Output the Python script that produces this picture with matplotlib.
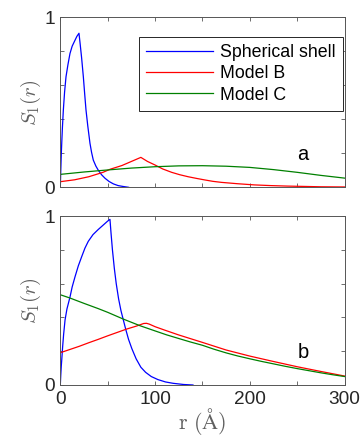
import numpy as np
import matplotlib
matplotlib.use("Agg")
import matplotlib.pyplot as plt

plt.rcParams['font.family'] = ['Liberation Sans', 'DejaVu Sans']
plt.rcParams['mathtext.fontset'] = 'cm'

# ---- data ----
# panel a
r_a_shell = [0, 0.5, 1, 1.5, 2.2, 3.2, 4.5, 6, 8, 10.2, 12.5, 15.5, 17.5, 19.7,
             21, 22.5, 24.3, 25.7, 27.1, 29, 31.3, 33, 34.8, 37.5, 40.1, 43.5,
             47.2, 51.5, 56, 61, 66, 72]
s_a_shell = [0, 0.10, 0.19, 0.26, 0.35, 0.455, 0.56, 0.65, 0.72, 0.787, 0.83, 0.865, 0.888, 0.906,
             0.84, 0.76, 0.65, 0.55, 0.455, 0.36, 0.259, 0.205, 0.16, 0.125, 0.10, 0.074,
             0.053, 0.034, 0.02, 0.01, 0.005, 0.0]

r_a_B = [0, 15, 30, 45, 52.5, 65, 75, 85, 92, 100, 108, 117.5, 126, 135, 144, 152.7,
         161, 170, 187, 205, 222, 240, 258, 275, 300]
s_a_B = [0.033, 0.044, 0.062, 0.088, 0.106, 0.128, 0.152, 0.176, 0.152, 0.131, 0.108, 0.088, 0.074, 0.062, 0.052, 0.043,
         0.035, 0.029, 0.021, 0.014, 0.010, 0.007, 0.005, 0.003, 0.002]

r_a_C = [0, 25, 50, 75, 100, 125, 150, 175, 200, 225, 250, 275, 300]
s_a_C = [0.076, 0.09, 0.102, 0.113, 0.121, 0.126, 0.127, 0.124, 0.117, 0.104, 0.088, 0.07, 0.054]

# panel b
r_b_shell = [0, 0.5, 1, 1.5, 2.5, 3.5, 5, 7, 10.2, 12.5, 15.5, 19, 22.6, 26, 29.5, 34.5, 40, 44, 47, 50, 52.4,
             53.5, 55, 57, 59, 61.5, 64, 66.5, 69, 72, 75.5, 80, 85, 90, 96, 103, 111, 119, 130, 140]
s_b_shell = [0, 0.06, 0.11, 0.148, 0.23, 0.30, 0.385, 0.45, 0.52, 0.58, 0.64, 0.705, 0.76, 0.81, 0.85, 0.89, 0.92, 0.94, 0.955, 0.97, 0.98,
             0.90, 0.80, 0.69, 0.60, 0.51, 0.44, 0.385, 0.33, 0.27, 0.215, 0.155, 0.105, 0.075, 0.05, 0.032, 0.018, 0.01, 0.003, 0.0]

r_b_B = [0, 10, 20, 30, 40, 50, 60, 70, 80, 85, 88, 91, 94, 100, 110, 125, 150, 175, 200, 225, 250, 275, 300]
s_b_B = [0.191, 0.21, 0.229, 0.25, 0.27, 0.291, 0.311, 0.331, 0.348, 0.358, 0.364, 0.365, 0.36, 0.345, 0.325, 0.296, 0.252, 0.207, 0.171, 0.139, 0.108, 0.08, 0.053]

r_b_C = [0, 10, 25, 40, 50, 66.5, 84, 100, 112, 125, 137, 150, 162, 175, 187, 200, 212, 225, 237, 250, 262, 275, 287, 300]
s_b_C = [0.534, 0.515, 0.483, 0.452, 0.43, 0.39, 0.351, 0.32, 0.297, 0.275, 0.255, 0.235, 0.212, 0.19, 0.172, 0.155, 0.14, 0.125, 0.111, 0.097, 0.085, 0.072, 0.061, 0.05]

labels = ["Spherical shell", "Model B", "Model C"]
colors = ["#0000ff", "#ff0000", "#008000"]

fig = plt.figure(figsize=(3.64, 4.41), dpi=100)
ax_a = fig.add_axes([0.1657, 0.5753, 0.781, 0.3855])
ax_b = fig.add_axes([0.1657, 0.1270, 0.781, 0.3832])

panels = [
    (ax_a, [(r_a_shell, s_a_shell), (r_a_B, s_a_B), (r_a_C, s_a_C)], "a"),
    (ax_b, [(r_b_shell, s_b_shell), (r_b_B, s_b_B), (r_b_C, s_b_C)], "b"),
]

for ax, curves, tag in panels:
    for (r, s), c, lab in zip(curves, colors, labels):
        ax.plot(r, s, color=c, lw=0.9, label=lab)
    ax.set_xlim(0, 300)
    ax.set_ylim(0, 1)
    ax.set_xticks(np.arange(0, 301, 50))
    ax.set_yticks(np.arange(0, 1.01, 0.2))
    ax.set_yticklabels(["0", "", "", "", "", "1"])
    ax.tick_params(direction="in", length=3, width=0.6, top=True, right=True,
                   colors="#555555", labelcolor="#262626", labelsize=13.7, pad=4)
    for sp in ax.spines.values():
        sp.set_color("#555555")
        sp.set_linewidth(0.7)
    ax.set_ylabel(r"$S_1(r)$", fontsize=15, color="#606060", labelpad=1)
    ax.text(256, 0.19, tag, fontsize=14.5, color="black", ha="center", va="center")

ax_a.set_xticklabels([])
ax_b.set_xticklabels(["0", "", "100", "", "200", "", "300"])
ax_b.set_xlabel(r"$\mathrm{r\ (\AA)}$", fontsize=16, color="#606060", labelpad=-1)

leg = ax_a.legend(loc="upper right", bbox_to_anchor=(0.995, 0.886), borderaxespad=0,
                  fontsize=12.8, handlelength=3.8, handletextpad=0.4, labelspacing=0.25,
                  borderpad=0.4, fancybox=False, framealpha=1, edgecolor="#262626")
leg.get_frame().set_linewidth(0.7)

fig.savefig("out.png", dpi=100)
